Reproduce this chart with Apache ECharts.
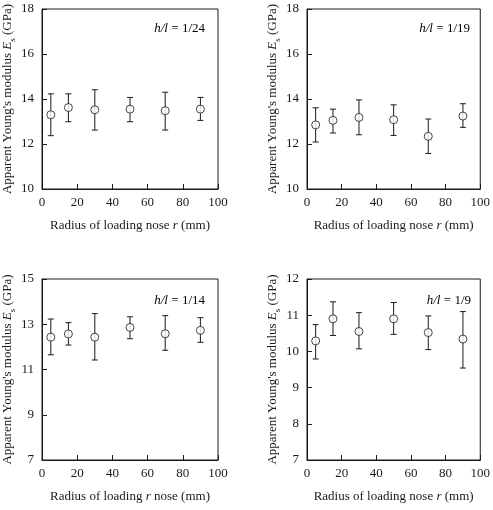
<!DOCTYPE html>
<html>
<head>
<meta charset="utf-8">
<script src="https://cdn.jsdelivr.net/npm/echarts@6/dist/echarts.min.js"></script>
<style>
  html, body { margin: 0; padding: 0; background: #fff; }
  #chart { width: 493px; height: 510px; }
</style>
</head>
<body>
<div id="chart"></div>
<script>
// radius of loading nose (mm)
const radius = [5, 15, 30, 50, 70, 90]

// h/l = 1/24
const mean24 = [13.30, 13.62, 13.52, 13.55, 13.48, 13.55]
const hi24 = [14.23, 14.23, 14.41, 14.07, 14.30, 14.07]
const lo24 = [12.37, 12.99, 12.62, 12.99, 12.62, 13.05]

// h/l = 1/19
const mean19 = [12.85, 13.05, 13.18, 13.08, 12.34, 13.24]
const hi19 = [13.61, 13.55, 13.96, 13.74, 13.11, 13.79]
const lo19 = [12.09, 12.49, 12.41, 12.38, 11.58, 12.74]

// h/l = 1/14
const mean14 = [12.43, 12.57, 12.43, 12.86, 12.58, 12.73]
const hi14 = [13.23, 13.07, 13.47, 13.33, 13.38, 13.29]
const lo14 = [11.65, 12.08, 11.42, 12.36, 11.85, 12.20]

// h/l = 1/9
const mean9 = [10.29, 10.90, 10.55, 10.90, 10.52, 10.34]
const hi9 = [10.74, 11.37, 11.07, 11.35, 10.98, 11.10]
const lo9 = [9.79, 10.44, 10.07, 10.47, 10.05, 9.54]

const panelLabels = ['1/24', '1/19', '1/14', '1/9']
const yRanges = [[10, 18, 2], [10, 18, 2], [7, 15, 2], [7, 12, 1]]
const xNames = [
  'Radius of loading nose {i|r} (mm)',
  'Radius of loading nose {i|r} (mm)',
  'Radius of loading {i|r} nose (mm)',
  'Radius of loading nose {i|r} (mm)'
]

const FONT = '"Liberation Serif", "DejaVu Serif", serif'
const INK = '#1a1a1a'

// 四个图的位置
const grids = [
  { left: 40, top: 9, width: 178, height: 180 },
  { left: 307, top: 9, width: 176, height: 180 },
  { left: 40, top: 279, width: 178, height: 181 },
  { left: 307, top: 279, width: 177, height: 181 }
]

const means = [mean24, mean19, mean14, mean9]
const his = [hi24, hi19, hi14, hi9]
const los = [lo24, lo19, lo14, lo9]

const richName = {
  n: { fontFamily: FONT, fontSize: 13, color: INK },
  i: { fontFamily: FONT, fontSize: 13, color: INK, fontStyle: 'italic' },
  sub: { fontFamily: FONT, fontSize: 9, color: INK, verticalAlign: 'bottom', padding: [0, 0, -3, 0] }
}

const option = {
  animation: false,
  backgroundColor: '#fff',
  grid: grids.map(g => ({
    ...g,
    show: true,
    borderColor: INK,
    borderWidth: 1,
    backgroundColor: 'transparent'
  })),
  xAxis: grids.map((g, i) => ({
    type: 'value',
    gridIndex: i,
    min: 0,
    max: 100,
    interval: 20,
    name: xNames[i],
    nameLocation: 'middle',
    nameGap: 30,
    nameTextStyle: { fontFamily: FONT, fontSize: 13, color: INK, rich: richName },
    axisLine: { show: true, lineStyle: { color: INK, width: 1 } },
    axisTick: { show: true, inside: true, length: 5, lineStyle: { color: INK } },
    axisLabel: { fontFamily: FONT, fontSize: 13, color: INK, margin: 7 },
    splitLine: { show: false }
  })),
  yAxis: grids.map((g, i) => ({
    type: 'value',
    gridIndex: i,
    min: yRanges[i][0],
    max: yRanges[i][1],
    interval: yRanges[i][2],
    name: '{n|Apparent Young\'s modulus }{i|E}{sub|s}{n| (GPa)}',
    nameLocation: 'middle',
    nameRotate: 90,
    nameGap: 28,
    nameTextStyle: { rich: richName },
    axisLine: { show: true, lineStyle: { color: INK, width: 1 } },
    axisTick: { show: true, inside: true, length: 5, lineStyle: { color: INK } },
    axisLabel: { fontFamily: FONT, fontSize: 13, color: INK, margin: 8 },
    splitLine: { show: false }
  })),
  series: [],
  graphic: []
}

means.forEach((m, i) => {
  // 误差棒
  option.series.push({
    type: 'custom',
    xAxisIndex: i,
    yAxisIndex: i,
    z: 2,
    data: radius.map((r, k) => [r, los[i][k], his[i][k]]),
    renderItem(params, api) {
      const x = api.value(0)
      const top = api.coord([x, api.value(2)])
      const bot = api.coord([x, api.value(1)])
      const cap = 3
      const style = { stroke: INK, lineWidth: 1, fill: null }
      return {
        type: 'group',
        children: [
          { type: 'line', shape: { x1: top[0], y1: top[1], x2: bot[0], y2: bot[1] }, style },
          { type: 'line', shape: { x1: top[0] - cap, y1: top[1], x2: top[0] + cap, y2: top[1] }, style },
          { type: 'line', shape: { x1: bot[0] - cap, y1: bot[1], x2: bot[0] + cap, y2: bot[1] }, style }
        ]
      }
    }
  })
  // 空心圆
  option.series.push({
    type: 'scatter',
    xAxisIndex: i,
    yAxisIndex: i,
    z: 3,
    symbol: 'circle',
    symbolSize: 8,
    itemStyle: { color: '#fff', borderColor: INK, borderWidth: 1 },
    data: radius.map((r, k) => [r, m[k]])
  })
  // h/l 标注
  const g = grids[i]
  option.graphic.push({
    type: 'text',
    right: 493 - (g.left + g.width) + 13,
    top: g.top + (i < 2 ? 13 : 15),
    style: {
      text: '{i|h/l} {n|= ' + panelLabels[i] + '}',
      rich: richName
    }
  })
})

const chart = echarts.init(document.getElementById('chart'))
chart.setOption(option)
</script>
</body>
</html>
